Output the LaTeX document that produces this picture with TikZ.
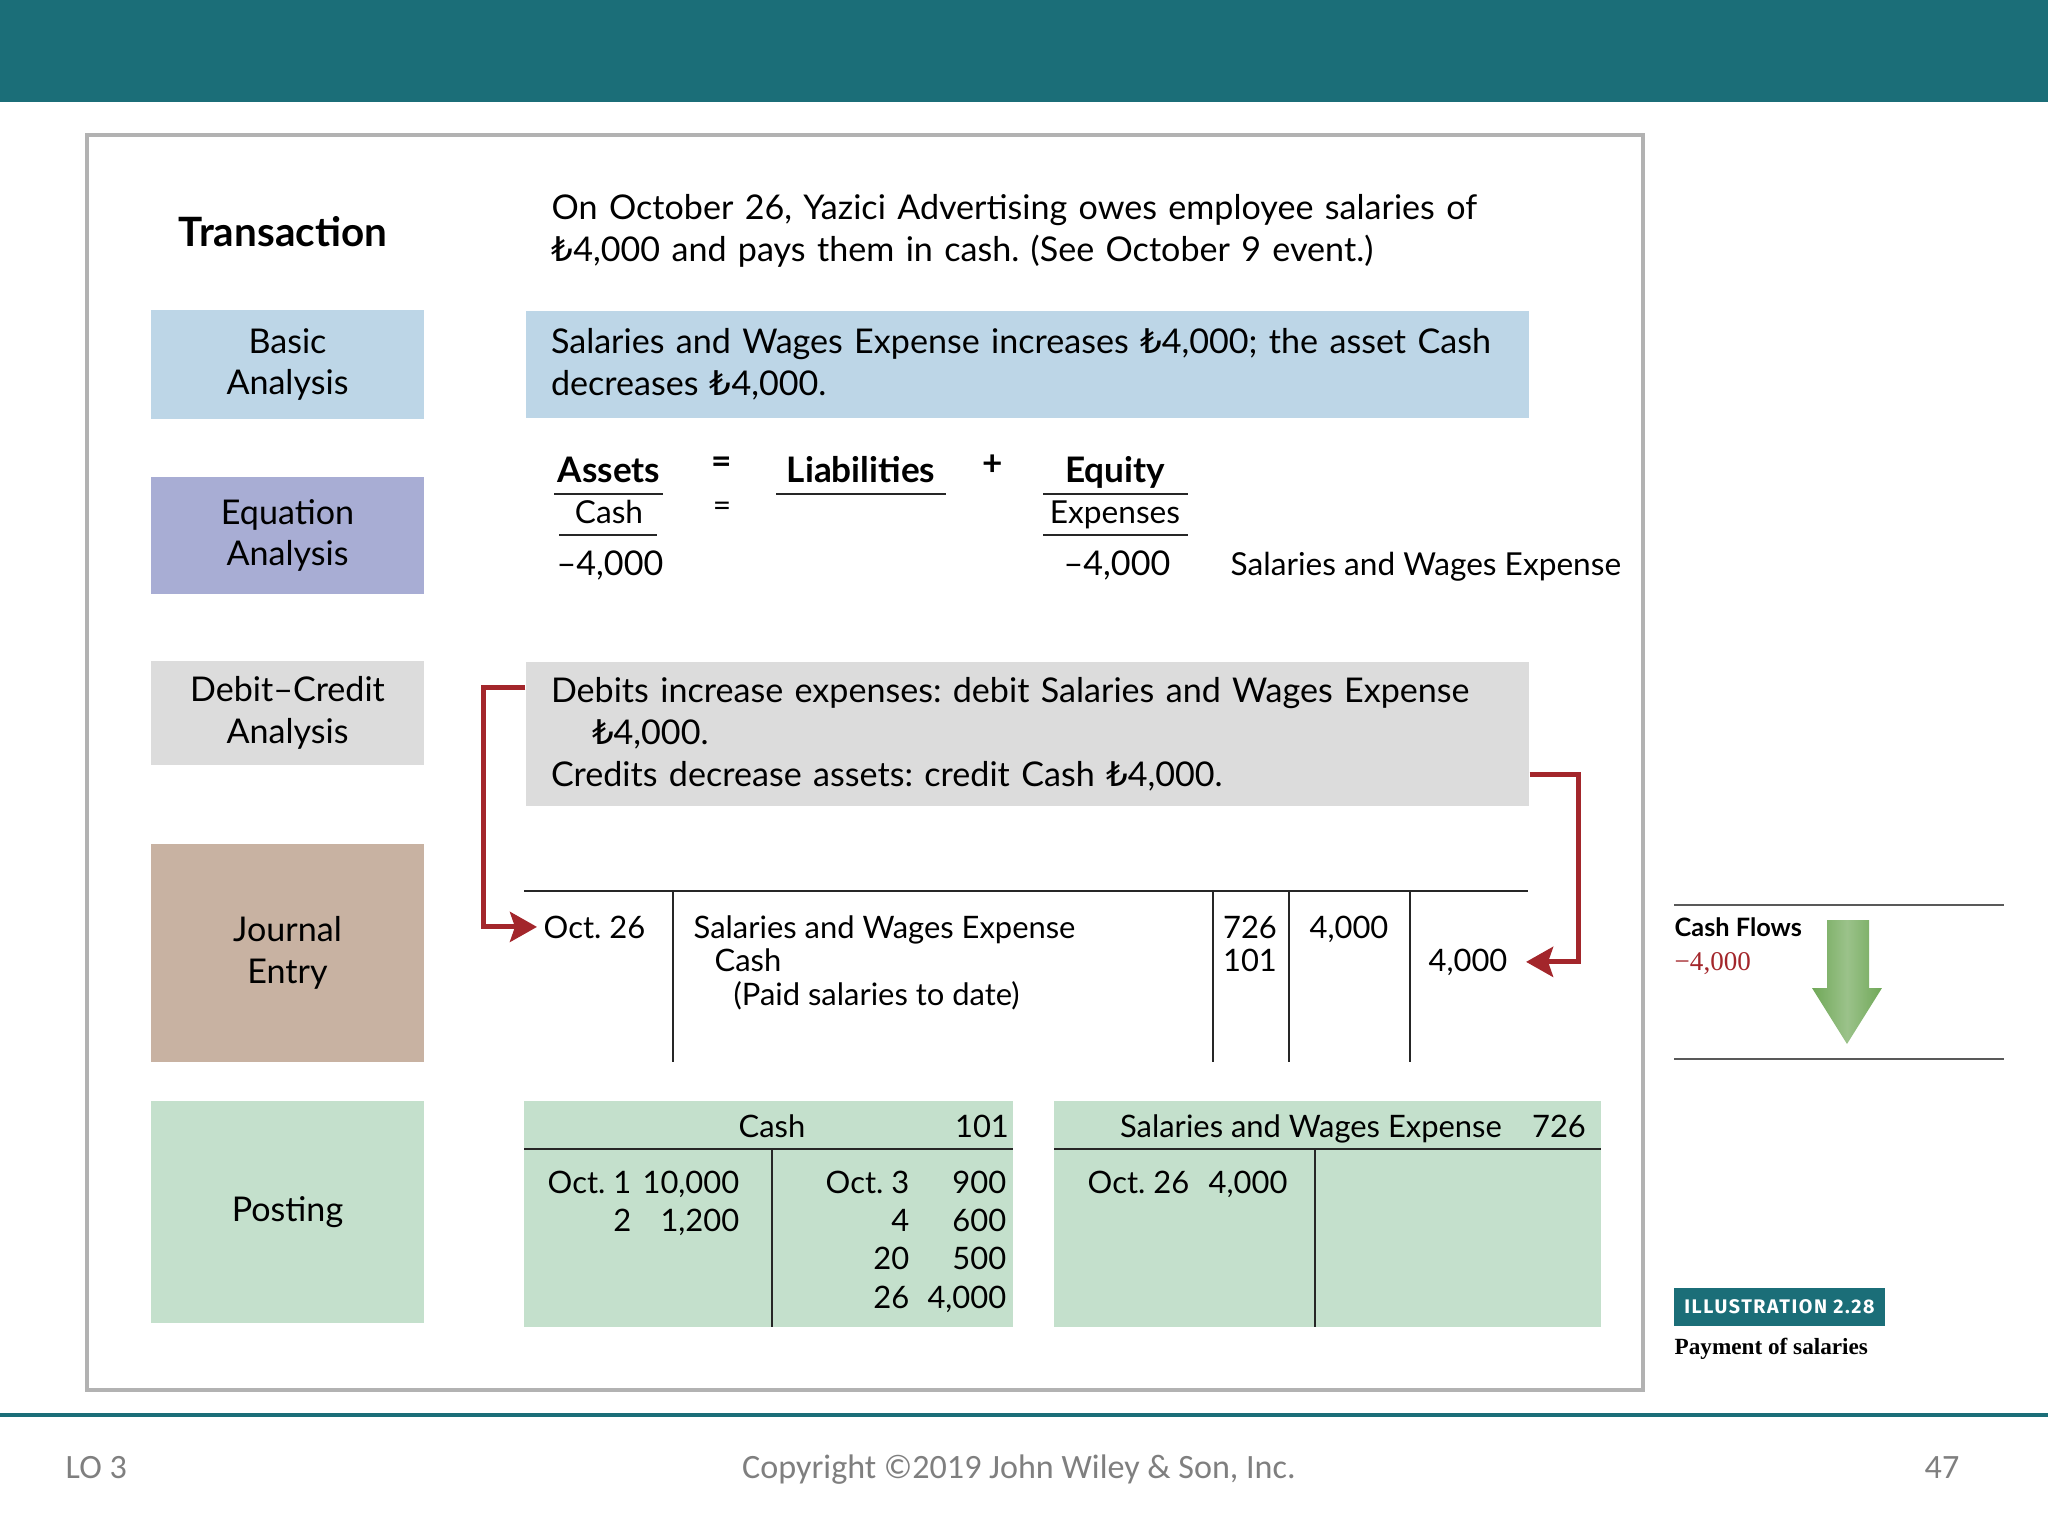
\documentclass[tikz,border=0pt]{standalone}
\usepackage{fontspec}
\setmainfont{Lato}
\newfontfamily\lirafont{DejaVu Sans}
\newfontfamily\footfont{Carlito}
\newfontfamily\bookfont{Liberation Serif}
\newfontfamily\tagfont[LetterSpace=8]{Fira Sans}
\usetikzlibrary{arrows.meta,positioning}

\definecolor{wileyteal}{RGB}{27,110,120}
\definecolor{basicblue}{RGB}{189,214,231}
\definecolor{eqlilac}{RGB}{168,173,212}
\definecolor{dcgray}{RGB}{220,220,220}
\definecolor{jetan}{RGB}{200,178,162}
\definecolor{postmint}{RGB}{196,224,204}
\definecolor{flowred}{RGB}{163,38,43}
\definecolor{flowgreen}{RGB}{112,168,88}
\definecolor{footgray}{RGB}{127,127,127}

\newcommand{\lira}{{\lirafont ₺}}
\frenchspacing

\begin{document}
\begin{tikzpicture}[
 txt/.style={inner sep=0pt, font=\fontsize{9.7}{11.9}\selectfont},
 eqtxt/.style={inner sep=0pt, font=\fontsize{9}{11}\selectfont},
 jtxt/.style={inner sep=0pt, font=\fontsize{8.8}{10.5}\selectfont},
 lbl/.style={rectangle, minimum width=2.73cm, align=center, inner sep=0pt, font=\fontsize{9.7}{11.9}\selectfont},
 panel/.style={rectangle, minimum width=10.03cm, text width=9.53cm, align=left, inner xsep=0.25cm, inner ysep=0pt, font=\fontsize{9.7}{11.9}\selectfont},
 hd/.style={inner sep=0pt, font=\bfseries\fontsize{10}{12}\selectfont},
 rule/.style={line width=0.85pt, black!85},
 grid/.style={line width=0.6pt, black!85},
 arr/.style={line width=1.4pt, flowred, -{Stealth[length=0.27cm,width=0.3cm,inset=0.05cm]}},
]
\useasboundingbox (0,0) rectangle (20.48,-15.36);

% slide frame
\fill[wileyteal] (0,0) rectangle (20.48,-1.02);
\draw[black!30, line width=0.9pt] (0.87,-1.35) rectangle (16.43,-13.9);
\draw[wileyteal, line width=0.9pt] (0,-14.15) -- (20.48,-14.15);

% row labels
\node[hd, font=\bfseries\fontsize{11.5}{13}\selectfont] (trans) at (2.83,-2.32) {Transaction};
\node[lbl, fill=basicblue, minimum height=1.09cm] (basic) at (2.875,-3.645) {Basic\\Analysis};
\node[lbl, fill=eqlilac, minimum height=1.17cm] (equat) at (2.875,-5.355) {Equation\\Analysis};
\node[lbl, fill=dcgray, minimum height=1.04cm] (debcred) at (2.875,-7.13) {Debit–Credit\\Analysis};
\node[lbl, fill=jetan, minimum height=2.18cm] (journal) at (2.875,-9.53) {Journal\\Entry};
\node[lbl, fill=postmint, minimum height=2.22cm] (posting) at (2.875,-12.12) {Posting};

% transaction and analysis
\node[txt, anchor=west, text width=10.5cm, align=left] (transtext) at (5.51,-2.31)
 {On October 26, Yazici Advertising owes employee salaries of\\\lira4,000 and pays them in cash. (See October 9 event.)};
\node[panel, fill=basicblue, minimum height=1.07cm] (basicbox) at (10.275,-3.645)
 {Salaries and Wages Expense increases \lira4,000; the asset Cash\\decreases \lira4,000.};

% equation
\node[hd, anchor=base] (assets) at (6.09,-4.82) {Assets};
\node[hd, anchor=base] (liab) at (8.61,-4.82) {Liabilities};
\node[hd, anchor=base] (equity) at (11.15,-4.82) {Equity};
\node[hd] (eq1) at (7.22,-4.65) {=};
\node[hd] (plus) at (9.93,-4.65) {+};
\draw[rule] (5.54,-4.94) -- (6.63,-4.94);
\draw[rule] (7.76,-4.94) -- (9.46,-4.94);
\draw[rule] (10.43,-4.94) -- (11.88,-4.94);
\node[eqtxt, anchor=base] (cash) at (6.09,-5.24) {Cash};
\node[eqtxt] (eq2) at (7.22,-5.09) {=};
\node[eqtxt, anchor=base] (expn) at (11.15,-5.24) {Expenses};
\draw[rule] (5.59,-5.35) -- (6.57,-5.35);
\draw[rule] (10.43,-5.35) -- (11.88,-5.35);
\node[txt, anchor=base] (cashamt) at (6.10,-5.76) {–4,000};
\node[txt, anchor=base] (expamt) at (11.17,-5.76) {–4,000};
\node[eqtxt, anchor=base west] (expname) at (12.30,-5.76) {Salaries and Wages Expense};

% debit-credit
\node[panel, fill=dcgray, minimum height=1.44cm] (dcbox) at (10.275,-7.34)
 {Debits increase expenses: debit Salaries and Wages Expense\\\hspace*{0.41cm}\lira4,000.\\Credits decrease assets: credit Cash \lira4,000.};

% journal entry
\draw[grid] (5.24,-8.91) -- (15.28,-8.91);
\foreach \x in {6.73,12.13,12.89,14.10}
 \draw[grid] (\x,-8.91) -- (\x,-10.62);
\node[jtxt, anchor=base west] (jdate) at (5.43,-9.38) {Oct. 26};
\node[jtxt, anchor=base west] (jdebit) at (6.93,-9.38) {Salaries and Wages Expense};
\node[jtxt, anchor=base west] (jcash) at (7.14,-9.71) {Cash};
\node[jtxt, anchor=base west] (jmemo) at (7.33,-10.05) {(Paid salaries to date)};
\node[jtxt, anchor=base] (jref1) at (12.50,-9.38) {726};
\node[jtxt, anchor=base] (jref2) at (12.50,-9.71) {101};
\node[jtxt, anchor=base] (jdr) at (13.49,-9.38) {4,000};
\node[jtxt, anchor=base] (jcr) at (14.68,-9.71) {4,000};

\draw[arr] ([yshift=-0.26cm]dcbox.north west) -- ++(-0.42,0) |- ([xshift=-0.06cm]jdate.west);
\draw[arr] ([yshift=0.32cm]dcbox.south east) -- ++(0.49,0) |- ([xshift=0.18cm]jcr.east);

% posting: cash
\fill[postmint] (5.24,-11.01) rectangle (10.13,-13.27);
\draw[grid] (5.24,-11.49) -- (10.13,-11.49);
\draw[grid] (7.72,-11.49) -- (7.72,-13.27);
\node[jtxt, anchor=base] (tcash) at (7.72,-11.37) {Cash};
\node[jtxt, anchor=base] (tcashno) at (9.82,-11.37) {101};
\node[jtxt, anchor=base east] (cd1) at (6.32,-11.93) {Oct. 1};
\node[jtxt, anchor=base east] (ca1) at (7.40,-11.93) {10,000};
\node[jtxt, anchor=base east] (cd2) at (6.32,-12.31) {2};
\node[jtxt, anchor=base east] (ca2) at (7.40,-12.31) {1,200};
\foreach \d/\a/\y in {Oct. 3/900/-11.93, 4/600/-12.31, 20/500/-12.69, 26/{4,000}/-13.08}{
 \node[jtxt, anchor=base east] at (9.10,\y) {\d};
 \node[jtxt, anchor=base east] at (10.07,\y) {\a};
}

% posting: salaries
\fill[postmint] (10.54,-11.01) rectangle (16.01,-13.27);
\draw[grid] (10.54,-11.49) -- (16.01,-11.49);
\draw[grid] (13.15,-11.49) -- (13.15,-13.27);
\node[jtxt, anchor=base] (tsal) at (13.11,-11.37) {Salaries and Wages Expense};
\node[jtxt, anchor=base] (tsalno) at (15.59,-11.37) {726};
\node[jtxt, anchor=base west] (sd1) at (10.87,-11.93) {Oct. 26};
\node[jtxt, anchor=base west] (sa1) at (12.08,-11.93) {4,000};

% cash flows
\draw[black!65, line width=0.7pt] (16.74,-9.05) -- (20.04,-9.05);
\draw[black!65, line width=0.7pt] (16.74,-10.59) -- (20.04,-10.59);
\node[inner sep=0pt, anchor=base west, font=\bfseries\fontsize{7.2}{9}\selectfont] (cflow) at (16.74,-9.37) {Cash Flows};
\node[inner sep=0pt, anchor=base west, text=flowred, font=\bookfont\fontsize{7.7}{9}\selectfont] (cfamt) at (16.74,-9.70) {−4,000};
\shade[left color=flowgreen, right color=flowgreen, middle color=flowgreen!70!white]
 (18.27,-9.20) -- (18.69,-9.20) -- (18.69,-9.88) -- (18.82,-9.88) -- (18.47,-10.44)
 -- (18.12,-9.88) -- (18.27,-9.88) -- cycle;

% illustration tag
\node[fill=wileyteal, text=white, minimum width=2.11cm, minimum height=0.38cm, inner sep=0pt,
 font=\tagfont\bfseries\fontsize{5.6}{7}\selectfont] (illus) at (17.795,-13.07) {ILLUSTRATION 2.28};
\node[inner sep=0pt, anchor=base west, font=\bookfont\bfseries\fontsize{6.6}{8}\selectfont] (illcap) at (16.74,-13.54) {Payment of salaries};

% footer
\node[inner sep=0pt, anchor=base west, text=footgray, font=\footfont\fontsize{9.7}{12}\selectfont] (lo) at (0.65,-14.78) {LO 3};
\node[inner sep=0pt, anchor=base, text=footgray, font=\footfont\fontsize{9.7}{12}\selectfont] (copy) at (10.19,-14.78) {Copyright ©2019 John Wiley \& Son, Inc.};
\node[inner sep=0pt, anchor=base, text=footgray, font=\footfont\fontsize{9.7}{12}\selectfont] (pg) at (19.42,-14.78) {47};
\end{tikzpicture}
\end{document}
